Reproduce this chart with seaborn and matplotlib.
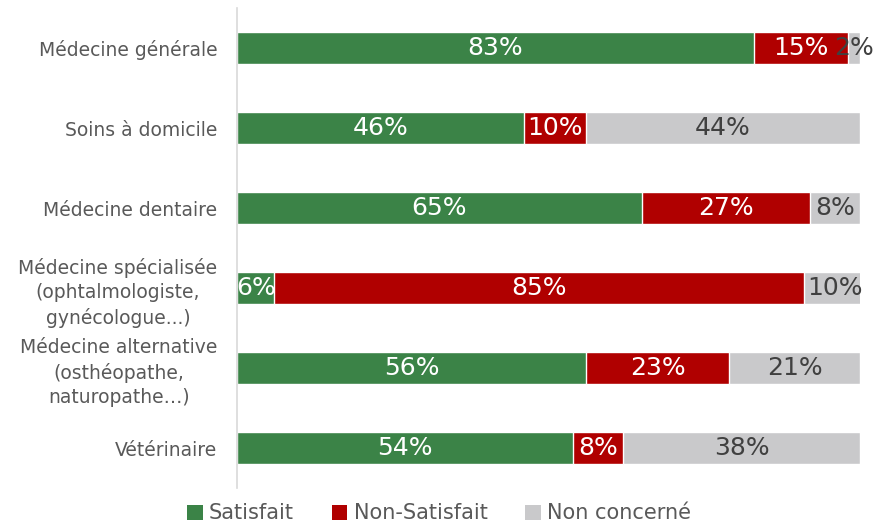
import matplotlib
matplotlib.use("Agg")
import matplotlib.pyplot as plt
from matplotlib.patches import Patch
import seaborn as sns
import pandas as pd
import numpy as np

# Données (%)
categories = [
    "Médecine générale",
    "Soins à domicile",
    "Médecine dentaire",
    "Médecine spécialisée\n(ophtalmologiste,\ngynécologue...)",
    "Médecine alternative\n(osthéopathe,\nnaturopathe…)",
    "Vétérinaire",
]
satisfait = [83, 46, 65, 6, 56, 54]
non_satisfait = [15, 10, 27, 85, 23, 8]
non_concerne = [2, 44, 8, 10, 21, 38]

series_names = ["Satisfait", "Non-Satisfait", "Non concerné"]
colors = ["#3b8347", "#b00000", "#c9c9cb"]
text_colors = ["white", "white", "#404040"]

sns.set_theme(style="white")
plt.rcParams["font.family"] = ["DejaVu Sans"]

df = pd.DataFrame({
    "categorie": categories,
    "Satisfait": satisfait,
    "Non-Satisfait": non_satisfait,
    "Non concerné": non_concerne,
})
vals = df[series_names].to_numpy(dtype=float)
cum = np.cumsum(vals, axis=1)

fig = plt.figure(figsize=(8.78, 5.29), dpi=100)
ax = fig.add_axes([237 / 878, 1 - 488 / 529, (860 - 237) / 878, 480 / 529])

# Barres empilées : on trace les cumuls du plus grand au plus petit
for i in range(len(series_names) - 1, -1, -1):
    tmp = pd.DataFrame({"categorie": categories, "valeur": cum[:, i]})
    sns.barplot(data=tmp, x="valeur", y="categorie", orient="h",
                color=colors[i], width=0.4, saturation=1, ax=ax)

# Étiquettes de pourcentage au centre de chaque segment
for r in range(len(categories)):
    start = 0
    for i in range(len(series_names)):
        v = vals[r, i]
        ax.text(start + v / 2, r, f"{int(v)}%", ha="center", va="center",
                color=text_colors[i], fontsize=18)
        start += v

ax.set_xlim(0, 100)
ax.set_xlabel("")
ax.set_ylabel("")
ax.set_xticks([])
ax.tick_params(axis="y", length=0, pad=14, labelsize=13.5, labelcolor="#595959")
for lab in ax.get_yticklabels():
    lab.set_multialignment("center")
    lab.set_linespacing(1.35)
for s in ["top", "right", "bottom"]:
    ax.spines[s].set_visible(False)
ax.spines["left"].set_color("#d9d9d9")
ax.spines["left"].set_linewidth(1.2)

handles = [Patch(facecolor=c, edgecolor="none", label=n) for c, n in zip(colors, series_names)]
fig.legend(handles=handles, loc="lower center", bbox_to_anchor=(0.5, -0.025), ncol=3,
           frameon=False, fontsize=15, handlelength=0.75, handleheight=0.75,
           handletextpad=0.3, columnspacing=1.8, labelcolor="#595959")

fig.savefig("out.png", dpi=100)
plt.close(fig)
